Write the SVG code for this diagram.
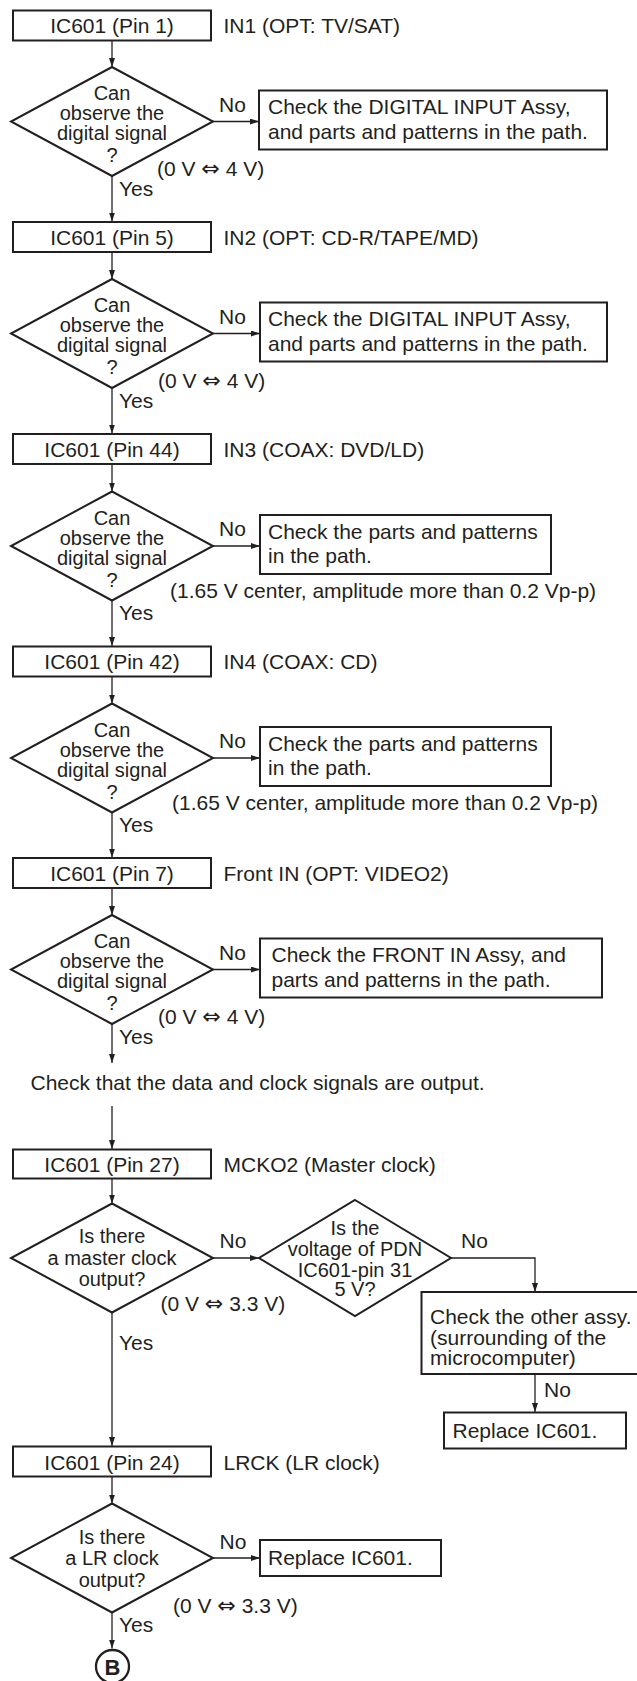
<svg xmlns="http://www.w3.org/2000/svg" width="637" height="1681" viewBox="0 0 637 1681">
<defs>
<marker id="ah" markerUnits="userSpaceOnUse" markerWidth="9" markerHeight="6" refX="9" refY="3" orient="auto">
<path d="M0,0 L9,3 L0,6 z" fill="#231f20"/>
</marker>
<style>
.bx{fill:#fff;stroke:#231f20;stroke-width:2}
.t{font-family:"Liberation Sans",Arial,"DejaVu Sans",sans-serif;font-size:21px;fill:#231f20}
.d{font-family:"Liberation Sans",Arial,"DejaVu Sans",sans-serif;font-size:20px;fill:#231f20;text-anchor:middle}
.m{text-anchor:middle}
.ar{font-family:"DejaVu Sans",sans-serif;font-size:22px}
.cn{stroke:#231f20;stroke-width:1.3;fill:none;marker-end:url(#ah)}
</style>
</defs>
<rect width="637" height="1681" fill="#fff"/>

<g id="connectors">
<path class="cn" d="M112,40.5 V67"/>
<path class="cn" d="M213,121.5 H259"/>
<path class="cn" d="M112,176 V221.5"/>
<path class="cn" d="M112,252 V279"/>
<path class="cn" d="M213,333.5 H260"/>
<path class="cn" d="M112,388 V433.5"/>
<path class="cn" d="M112,464 V491.5"/>
<path class="cn" d="M213,546 H260"/>
<path class="cn" d="M112,600.5 V646"/>
<path class="cn" d="M112,676.5 V703.5"/>
<path class="cn" d="M213,758 H260"/>
<path class="cn" d="M112,812.5 V857.5"/>
<path class="cn" d="M112,888 V915"/>
<path class="cn" d="M213,969.5 H260"/>
<path class="cn" d="M112,1024 V1063"/>
<path class="cn" d="M112,1106 V1149"/>
<path class="cn" d="M112,1178.5 V1203.5"/>
<path class="cn" d="M213,1258 H259"/>
<path class="cn" d="M451,1258 H535 V1292"/>
<path class="cn" d="M535,1374 V1412"/>
<path class="cn" d="M112,1312.5 V1446"/>
<path class="cn" d="M112,1476.5 V1503.5"/>
<path class="cn" d="M213,1558 H260"/>
<path class="cn" d="M112,1612.5 V1648.5"/>
</g>

<g id="labels">
<text class="t" x="219" y="111.5">No</text>
<text class="t" x="157" y="175.5">(0 V <tspan class="ar">⇔</tspan> 4 V)</text>
<text class="t" x="119" y="196">Yes</text>
<text class="t" x="219" y="323.5">No</text>
<text class="t" x="158" y="387.5">(0 V <tspan class="ar">⇔</tspan> 4 V)</text>
<text class="t" x="119" y="407.5">Yes</text>
<text class="t" x="219" y="536">No</text>
<text class="t" x="170" y="598">(1.65 V center, amplitude more than 0.2 Vp-p)</text>
<text class="t" x="119" y="620">Yes</text>
<text class="t" x="219" y="748">No</text>
<text class="t" x="172" y="810">(1.65 V center, amplitude more than 0.2 Vp-p)</text>
<text class="t" x="119" y="832">Yes</text>
<text class="t" x="219" y="959.5">No</text>
<text class="t" x="158" y="1023.5">(0 V <tspan class="ar">⇔</tspan> 4 V)</text>
<text class="t" x="119" y="1043.5">Yes</text>
<text class="t" x="30.5" y="1090">Check that the data and clock signals are output.</text>
<text class="t" x="219.5" y="1248">No</text>
<text class="t" x="461" y="1248">No</text>
<text class="t" x="160.5" y="1311">(0 V <tspan class="ar">⇔</tspan> 3.3 V)</text>
<text class="t" x="119" y="1350">Yes</text>
<text class="t" x="544" y="1397">No</text>
<text class="t" x="219.5" y="1549">No</text>
<text class="t" x="173" y="1613">(0 V <tspan class="ar">⇔</tspan> 3.3 V)</text>
<text class="t" x="119" y="1632">Yes</text>
<text class="t" x="223.5" y="33">IN1 (OPT: TV/SAT)</text>
<text class="t" x="223.5" y="244.5">IN2 (OPT: CD-R/TAPE/MD)</text>
<text class="t" x="223.5" y="456.5">IN3 (COAX: DVD/LD)</text>
<text class="t" x="223.5" y="669">IN4 (COAX: CD)</text>
<text class="t" x="223.5" y="880.5">Front IN (OPT: VIDEO2)</text>
<text class="t" x="223.5" y="1171.5">MCKO2 (Master clock)</text>
<text class="t" x="223.5" y="1470">LRCK (LR clock)</text>
</g>

<g id="n1"><rect class="bx" x="13" y="10.5" width="198" height="30"/><text class="t m" x="112" y="33">IC601 (Pin 1)</text></g>
<g id="d1"><polygon class="bx" points="112,67 213,121.5 112,176 11,121.5"/>
<text class="d" x="112" y="100">Can</text><text class="d" x="112" y="120">observe the</text><text class="d" x="112" y="140">digital signal</text><text class="d" x="112" y="162">?</text></g>
<g id="r1"><rect class="bx" x="259" y="90.5" width="348" height="59"/><text class="t" x="268" y="114">Check the DIGITAL INPUT Assy,</text><text class="t" x="268" y="138.5">and parts and patterns in the path.</text></g>

<g id="n2"><rect class="bx" x="13" y="222" width="198" height="30"/><text class="t m" x="112" y="244.5">IC601 (Pin 5)</text></g>
<g id="d2"><polygon class="bx" points="112,279 213,333.5 112,388 11,333.5"/>
<text class="d" x="112" y="312">Can</text><text class="d" x="112" y="332">observe the</text><text class="d" x="112" y="352">digital signal</text><text class="d" x="112" y="374">?</text></g>
<g id="r2"><rect class="bx" x="260" y="302.5" width="347" height="59"/><text class="t" x="268" y="326">Check the DIGITAL INPUT Assy,</text><text class="t" x="268" y="350.5">and parts and patterns in the path.</text></g>

<g id="n3"><rect class="bx" x="13" y="434" width="198" height="30"/><text class="t m" x="112" y="456.5">IC601 (Pin 44)</text></g>
<g id="d3"><polygon class="bx" points="112,491.5 213,546 112,600.5 11,546"/>
<text class="d" x="112" y="524.5">Can</text><text class="d" x="112" y="544.5">observe the</text><text class="d" x="112" y="564.5">digital signal</text><text class="d" x="112" y="586.5">?</text></g>
<g id="r3"><rect class="bx" x="260" y="515" width="291" height="59"/><text class="t" x="268" y="538.5">Check the parts and patterns</text><text class="t" x="268" y="563">in the path.</text></g>

<g id="n4"><rect class="bx" x="13" y="646.5" width="198" height="30"/><text class="t m" x="112" y="669">IC601 (Pin 42)</text></g>
<g id="d4"><polygon class="bx" points="112,703.5 213,758 112,812.5 11,758"/>
<text class="d" x="112" y="736.5">Can</text><text class="d" x="112" y="756.5">observe the</text><text class="d" x="112" y="776.5">digital signal</text><text class="d" x="112" y="798.5">?</text></g>
<g id="r4"><rect class="bx" x="260" y="727" width="291" height="59"/><text class="t" x="268" y="750.5">Check the parts and patterns</text><text class="t" x="268" y="775">in the path.</text></g>

<g id="n5"><rect class="bx" x="13" y="858" width="198" height="30"/><text class="t m" x="112" y="880.5">IC601 (Pin 7)</text></g>
<g id="d5"><polygon class="bx" points="112,915 213,969.5 112,1024 11,969.5"/>
<text class="d" x="112" y="948">Can</text><text class="d" x="112" y="968">observe the</text><text class="d" x="112" y="988">digital signal</text><text class="d" x="112" y="1010">?</text></g>
<g id="r5"><rect class="bx" x="260" y="938.5" width="342" height="59"/><text class="t" x="271.5" y="962">Check the FRONT IN Assy, and</text><text class="t" x="271.5" y="986.5">parts and patterns in the path.</text></g>

<g id="n6"><rect class="bx" x="13" y="1149.5" width="198" height="29"/><text class="t m" x="112" y="1171.5">IC601 (Pin 27)</text></g>
<g id="d6"><polygon class="bx" points="112,1203.5 213,1258 112,1312.5 11,1258"/>
<text class="d" x="112" y="1243">Is there</text><text class="d" x="112" y="1264.5">a master clock</text><text class="d" x="112" y="1286">output?</text></g>
<g id="d7"><polygon class="bx" points="355,1200 451,1258 355,1316 259,1258"/>
<text class="d" x="355" y="1235">Is the</text><text class="d" x="355" y="1256">voltage of PDN</text><text class="d" x="355" y="1277">IC601-pin 31</text><text class="d" x="355" y="1296">5 V?</text></g>
<g id="r6"><rect class="bx" x="421.5" y="1292" width="220" height="82"/><text class="t" x="430" y="1323.5">Check the other assy.</text><text class="t" x="430" y="1344.5">(surrounding of the</text><text class="t" x="430" y="1365">microcomputer)</text></g>
<g id="r7"><rect class="bx" x="444" y="1412.5" width="182" height="36"/><text class="t" x="452.5" y="1437.5">Replace IC601.</text></g>

<g id="n8"><rect class="bx" x="13" y="1446.5" width="198" height="30"/><text class="t m" x="112" y="1470">IC601 (Pin 24)</text></g>
<g id="d8"><polygon class="bx" points="112,1503.5 213,1558 112,1612.5 11,1558"/>
<text class="d" x="112" y="1543.5">Is there</text><text class="d" x="112" y="1565">a LR clock</text><text class="d" x="112" y="1586.5">output?</text></g>
<g id="r8"><rect class="bx" x="260" y="1540" width="181" height="36"/><text class="t" x="268" y="1565">Replace IC601.</text></g>
<g id="b"><circle class="bx" cx="112.5" cy="1666.5" r="16.5" style="stroke-width:2.3"/><text class="t m" x="112.5" y="1674.5" style="font-weight:bold;font-size:22px">B</text></g>
</svg>
